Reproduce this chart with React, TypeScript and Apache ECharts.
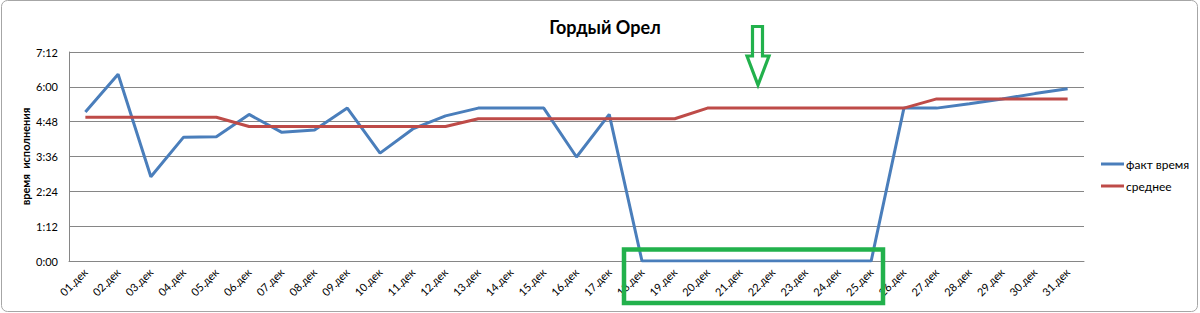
import React, { useEffect, useRef } from "react";
import * as echarts from "echarts";

const categories = [
  "01.дек", "02.дек", "03.дек", "04.дек", "05.дек", "06.дек", "07.дек", "08.дек",
  "09.дек", "10.дек", "11.дек", "12.дек", "13.дек", "14.дек", "15.дек", "16.дек",
  "17.дек", "18.дек", "19.дек", "20.дек", "21.дек", "22.дек", "23.дек", "24.дек",
  "25.дек", "26.дек", "27.дек", "28.дек", "29.дек", "30.дек", "31.дек",
];

const factTime = [
  "5:08", "6:26", "2:54", "4:16", "4:17", "5:03", "4:26", "4:31",
  "5:16", "3:43", "4:33", "5:00", "5:16", "5:16", "5:16", "3:35",
  "5:03", "0:00", "0:00", "0:00", "0:00", "0:00", "0:00", "0:00",
  "0:00", "5:16", "5:16", "5:25", "5:35", "5:46", "5:56",
];

const average = [
  "4:57", "4:57", "4:57", "4:57", "4:57", "4:38", "4:38", "4:38",
  "4:38", "4:38", "4:38", "4:38", "4:54", "4:54", "4:54", "4:54",
  "4:54", "4:54", "4:54", "5:16", "5:16", "5:16", "5:16", "5:16",
  "5:16", "5:16", "5:35", "5:35", "5:35", "5:35", "5:35",
];

const yTicks = ["0:00", "1:12", "2:24", "3:36", "4:48", "6:00", "7:12"];

const seriesNames = ["факт время", "среднее"];
const title = "Гордый Орел";
const yTitle = "время  исполнения";

const toMin = (s: string) => {
  const [h, m] = s.split(":").map(Number);
  return h * 60 + m;
};
const fmt = (v: number) => {
  const h = Math.floor(v / 60);
  const m = Math.round(v - h * 60);
  return `${h}:${m < 10 ? "0" + m : m}`;
};

const FONT = "Lato, 'Open Sans', sans-serif";
const GREEN = "#22b14c";

export default function App() {
  const ref = useRef<HTMLDivElement>(null);
  useEffect(() => {
    document.body.style.margin = "0";
    if (!ref.current) return;
    const chart = echarts.init(ref.current, undefined, { renderer: "svg" });
    const yMax = toMin(yTicks[yTicks.length - 1]);
    const yInterval = toMin(yTicks[1]);
    chart.setOption({
      animation: false,
      backgroundColor: "#fff",
      textStyle: { fontFamily: FONT },
      title: {
        text: title,
        left: 600,
        textAlign: "center",
        top: 13,
        textStyle: { fontFamily: FONT, fontSize: 18, fontWeight: "bold", color: "#000" },
      },
      legend: {
        orient: "vertical",
        left: 1101,
        top: 158,
        padding: 0,
        itemWidth: 23,
        itemHeight: 3,
        itemGap: 10,
        icon: "rect",
        textStyle: { fontFamily: FONT, fontSize: 12, color: "#000", padding: [0, 0, 0, -3] },
        data: seriesNames,
      },
      grid: { left: 69, right: 116, top: 52, bottom: 52, containLabel: false },
      xAxis: {
        type: "category",
        data: categories,
        boundaryGap: true,
        axisLine: { lineStyle: { color: "#868686", width: 1 } },
        axisTick: { show: false },
        axisLabel: { rotate: 45, fontSize: 11, color: "#000", margin: 9, fontFamily: FONT, interval: 0 },
      },
      yAxis: {
        type: "value",
        min: 0,
        max: yMax,
        interval: yInterval,
        name: yTitle,
        nameLocation: "middle",
        nameGap: 38,
        nameMoveOverlap: false,
        nameTextStyle: { fontFamily: FONT, fontSize: 11, fontWeight: "bold", color: "#000" },
        axisLine: { show: true, lineStyle: { color: "#868686", width: 1 } },
        axisTick: { show: false },
        splitLine: { lineStyle: { color: "#868686", width: 1 } },
        axisLabel: { formatter: (v: number) => fmt(v), fontSize: 11, color: "#000", margin: 11, fontFamily: FONT },
      },
      series: [
        {
          name: seriesNames[0],
          type: "line",
          data: factTime.map(toMin),
          showSymbol: false,
          symbol: "none",
          lineStyle: { color: "#4a7ebb", width: 3 },
          itemStyle: { color: "#4a7ebb" },
          z: 3,
        },
        {
          name: seriesNames[1],
          type: "line",
          data: average.map(toMin),
          showSymbol: false,
          symbol: "none",
          lineStyle: { color: "#be4b48", width: 3 },
          itemStyle: { color: "#be4b48" },
          z: 4,
        },
      ],
      graphic: [
        {
          type: "rect",
          shape: { x: 1.5, y: 0.5, width: 1196, height: 311, r: 6 },
          style: { fill: "none", stroke: "#a6a6a6", lineWidth: 1 },
          silent: true,
          z: 1,
        },
        {
          type: "rect",
          shape: { x: 624, y: 249.5, width: 259, height: 53.5 },
          style: { fill: "none", stroke: GREEN, lineWidth: 4.5 },
          silent: true,
          z: 10,
        },
        {
          type: "polygon",
          shape: {
            points: [
              [752.5, 26.5], [762.5, 26.5], [762.5, 56], [769, 56],
              [758, 85], [747, 56], [752.5, 56],
            ],
          },
          style: { fill: "none", stroke: GREEN, lineWidth: 3.2, lineJoin: "miter" },
          silent: true,
          z: 10,
        },
      ],
    });
    return () => chart.dispose();
  }, []);
  return <div ref={ref} style={{ width: 1200, height: 313 }} />;
}
